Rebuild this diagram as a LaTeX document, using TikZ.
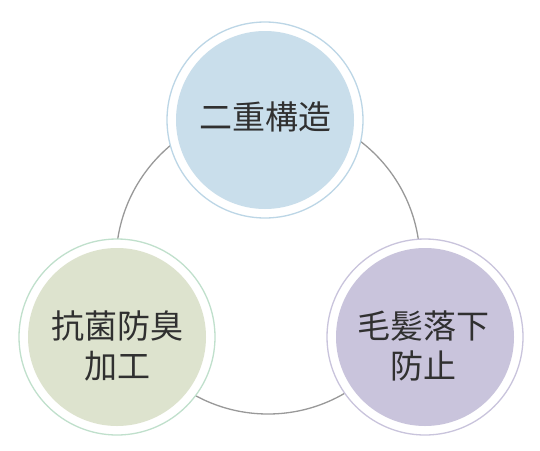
\documentclass[tikz,border=0pt]{standalone}
\usepackage{fontspec}
\newfontfamily\jp{Noto Sans CJK JP}
\definecolor{bluefill}{HTML}{C9DEEB}
\definecolor{bluering}{HTML}{BCD6E6}
\definecolor{greenfill}{HTML}{DDE3CE}
\definecolor{greenring}{HTML}{C0E0CC}
\definecolor{purplefill}{HTML}{C9C4DC}
\definecolor{purplering}{HTML}{C9C4DC}
\definecolor{txt}{HTML}{303030}
\definecolor{loop}{HTML}{999999}
\tikzset{
  ring/.style={circle, draw=#1, line width=1.3pt, fill=white, minimum size=196pt, inner sep=0pt},
  core/.style={circle, fill=#1, minimum size=178pt, inner sep=0pt},
  label/.style={font=\jp\fontsize{33}{40}\selectfont, text=txt, align=center, inner sep=0pt},
}
\begin{document}
\begin{tikzpicture}[x=1pt,y=-1pt]
\useasboundingbox (0,0) rectangle (540,450);
\fill[white] (0,0) rectangle (540,450);
\node[circle, draw=loop, line width=1.3pt, minimum size=304pt, inner sep=0pt] (loopc) at (268,262) {};
\node[ring=bluering] (topr) at (265,120) {};
\node[ring=greenring] (leftr) at (117,337) {};
\node[ring=purplering] (rightr) at (425,337) {};
\node[core=bluefill] (top) at (topr) {};
\node[core=greenfill] (left) at (leftr) {};
\node[core=purplefill] (right) at (rightr) {};
\node[label] (toptxt) at (265,117) {二重構造};
\node[label] (lefttxt) at (117,346) {抗菌防臭\\加工};
\node[label] (righttxt) at (423,346) {毛髪落下\\防止};
\end{tikzpicture}
\end{document}
